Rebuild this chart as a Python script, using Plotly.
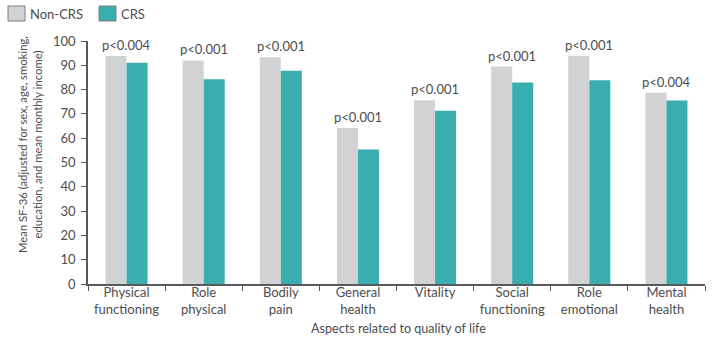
import plotly.graph_objects as go

categories = ["Physical<br>functioning", "Role<br>physical", "Bodily<br>pain", "General<br>health",
              "Vitality", "Social<br>functioning", "Role<br>emotional", "Mental<br>health"]
non_crs = [93.8, 92.0, 93.3, 64.2, 75.6, 89.5, 93.9, 78.7]
crs = [91.1, 84.3, 87.8, 55.3, 71.3, 82.9, 83.8, 75.5]
p_labels = ["p<0.004", "p<0.001", "p<0.001", "p<0.001", "p<0.001", "p<0.001", "p<0.001", "p<0.004"]
x_title = "Aspects related to quality of life"
y_title = "Mean SF-36 (adjusted for sex, age, smoking,<br>education, and mean monthly income)"

GRAY = "#D1D2D4"
TEAL = "#3AADB1"
TEXT = "#4D4D4F"
AXIS = "#58595B"
FONT = "Lato"
FS = 13.0

# plot area in pixels: left edge 88, width 617, bottom 284, height 243
L, W, B, H = 88, 617, 284, 243


def px(x):
    return (x - L) / W


def py(y):
    return (B - y) / H


fig = go.Figure()
fig.add_trace(go.Bar(x=categories, y=non_crs, name="Non-CRS", marker_color=GRAY,
                     marker_line_width=0, showlegend=False))
fig.add_trace(go.Bar(x=categories, y=crs, name="CRS", marker_color=TEAL,
                     marker_line_width=0, showlegend=False))

# significance labels above each pair of bars
for cat, a, b, lab in zip(categories, non_crs, crs, p_labels):
    fig.add_annotation(x=cat, y=max(a, b), text=lab, showarrow=False,
                       yanchor="bottom", yshift=1,
                       font=dict(family=FONT, size=FS, color=TEXT))

# legend drawn as swatches with labels
legend_items = [("Non-CRS", GRAY, 8), ("CRS", TEAL, 99)]
for name, color, x0 in legend_items:
    fig.add_shape(type="rect", xref="paper", yref="paper",
                  x0=px(x0), x1=px(x0 + 17), y0=py(21), y1=py(6),
                  fillcolor=color, line=dict(color="#7F7F7F", width=1))
    fig.add_annotation(xref="paper", yref="paper", x=px(x0 + 20), y=py(13.5),
                       text=name, showarrow=False, xanchor="left", yanchor="middle",
                       font=dict(family=FONT, size=FS, color=TEXT))

# axis titles
fig.add_annotation(xref="paper", yref="paper", x=px(398), y=py(328), text=x_title,
                   showarrow=False, xanchor="center", yanchor="middle",
                   font=dict(family=FONT, size=12.6, color=TEXT))
fig.add_annotation(xref="paper", yref="paper", x=px(30), y=py(145), text=y_title,
                   showarrow=False, xanchor="center", yanchor="middle", textangle=-90,
                   font=dict(family=FONT, size=11.3, color=TEXT))

fig.update_layout(
    width=712, height=340,
    margin=dict(l=L, r=712 - L - W, t=B - H, b=340 - B),
    barmode="group", bargap=0.455, bargroupgap=0,
    plot_bgcolor="white", paper_bgcolor="white",
    font=dict(family=FONT, size=FS, color=TEXT),
)
fig.update_xaxes(
    automargin=False,
    showline=True, linecolor=AXIS, linewidth=1.5,
    ticks="outside", tickson="boundaries", ticklen=5, tickcolor=AXIS,
    ticklabelstandoff=-4,
    tickfont=dict(family=FONT, size=FS, color=TEXT),
    showgrid=False,
)
fig.update_yaxes(
    automargin=False,
    range=[0, 100], dtick=10, showline=True, linecolor=AXIS, linewidth=1.5,
    ticks="outside", ticklen=5, tickcolor=AXIS, showgrid=False, zeroline=False,
    ticklabelstandoff=3,
    tickfont=dict(family=FONT, size=FS, color=TEXT),
)

fig.write_html("out.html")
